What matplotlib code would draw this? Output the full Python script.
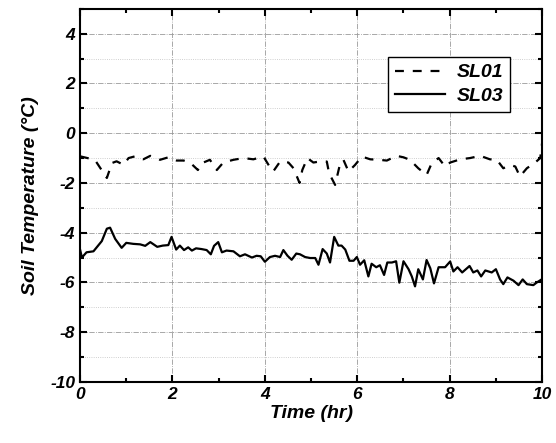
import numpy as np
import matplotlib.pyplot as plt
from matplotlib.ticker import MultipleLocator

# SL01 (dashed)
t_sl01 = [0.0, 0.32, 0.58, 0.69, 0.79, 0.94, 1.05, 1.19, 1.37, 1.52, 1.73, 1.91,
          2.09, 2.24, 2.38, 2.55, 2.63, 2.81, 2.96, 3.10, 3.32, 3.54, 3.75, 3.97,
          4.10, 4.18, 4.33, 4.51, 4.62, 4.75, 4.81, 4.92, 5.05, 5.18, 5.34, 5.39,
          5.52, 5.63, 5.70, 5.81, 5.95, 6.10, 6.28, 6.46, 6.64, 6.85, 7.00, 7.14,
          7.32, 7.50, 7.61, 7.76, 7.90, 8.01, 8.23, 8.44, 8.66, 8.87, 9.02, 9.16,
          9.31, 9.42, 9.52, 9.67, 9.85, 9.96, 10.0]
sl01 = [-0.93, -1.07, -1.80, -1.20, -1.13, -1.27, -1.00, -0.93, -1.05, -0.91, -1.07, -0.97,
        -1.10, -1.10, -1.18, -1.48, -1.21, -1.07, -1.48, -1.18, -1.07, -1.00, -1.05, -0.94,
        -1.34, -1.54, -1.14, -1.18, -1.41, -2.00, -1.48, -1.00, -1.18, -1.14, -1.14, -1.61,
        -2.08, -1.21, -1.07, -1.54, -1.28, -0.94, -1.05, -1.07, -1.10, -0.91, -0.97, -1.07,
        -1.41, -1.68, -1.21, -1.00, -1.34, -1.18, -1.05, -1.00, -0.91, -1.05, -1.07, -1.41,
        -1.28, -1.34, -1.74, -1.41, -1.18, -1.00, -0.40]

# SL03 (solid)
t_sl03 = [0.0, 0.04, 0.14, 0.29, 0.47, 0.58, 0.65, 0.76, 0.90, 1.00, 1.15, 1.30,
          1.41, 1.52, 1.67, 1.79, 1.91, 1.98, 2.08, 2.16, 2.25, 2.34, 2.42, 2.51,
          2.63, 2.74, 2.83, 2.90, 2.99, 3.07, 3.17, 3.32, 3.46, 3.57, 3.72, 3.82,
          3.91, 4.00, 4.11, 4.22, 4.33, 4.40, 4.49, 4.58, 4.68, 4.76, 4.87, 4.98,
          5.09, 5.16, 5.25, 5.34, 5.41, 5.50, 5.59, 5.66, 5.74, 5.83, 5.92, 5.99,
          6.06, 6.15, 6.24, 6.31, 6.41, 6.49, 6.58, 6.65, 6.75, 6.84, 6.91, 7.00,
          7.11, 7.18, 7.25, 7.32, 7.42, 7.50, 7.58, 7.66, 7.76, 7.90, 8.01, 8.08,
          8.17, 8.27, 8.43, 8.51, 8.60, 8.68, 8.77, 8.91, 9.00, 9.09, 9.16, 9.25,
          9.38, 9.49, 9.58, 9.67, 9.81, 9.88, 9.99]
sl03 = [-4.68, -5.00, -4.79, -4.75, -4.34, -3.84, -3.80, -4.25, -4.61, -4.41, -4.45, -4.47,
        -4.53, -4.38, -4.57, -4.52, -4.50, -4.17, -4.68, -4.52, -4.70, -4.59, -4.72, -4.63,
        -4.66, -4.70, -4.87, -4.53, -4.38, -4.79, -4.72, -4.75, -4.95, -4.87, -5.00, -4.93,
        -4.95, -5.17, -4.98, -4.93, -4.98, -4.70, -4.93, -5.09, -4.84, -4.87, -4.98, -5.02,
        -5.02, -5.29, -4.66, -4.84, -5.20, -4.17, -4.52, -4.52, -4.68, -5.13, -5.13, -4.98,
        -5.29, -5.11, -5.76, -5.25, -5.39, -5.31, -5.70, -5.20, -5.20, -5.15, -6.01, -5.15,
        -5.47, -5.76, -6.16, -5.47, -5.88, -5.10, -5.43, -6.04, -5.39, -5.39, -5.16, -5.56,
        -5.39, -5.60, -5.34, -5.60, -5.52, -5.76, -5.52, -5.60, -5.47, -5.88, -6.07, -5.80,
        -5.93, -6.11, -5.88, -6.07, -6.11, -6.01, -5.88]

plt.rcParams['font.family'] = 'Liberation Sans'
plt.rcParams['font.weight'] = 'bold'
plt.rcParams['font.style'] = 'italic'
plt.rcParams['axes.labelweight'] = 'bold'
plt.rcParams['axes.unicode_minus'] = False

fig = plt.figure(figsize=(5.56, 4.43), dpi=100)
ax = fig.add_axes([0.144, 0.138, 0.831, 0.842])

ax.plot(t_sl01, sl01, color='black', lw=1.6, ls=(0, (4, 4)), label='SL01')
ax.plot(t_sl03, sl03, color='black', lw=1.6, ls='-', label='SL03')

ax.set_xlim(0, 10)
ax.set_ylim(-10, 5)
ax.xaxis.set_major_locator(MultipleLocator(2))
ax.xaxis.set_minor_locator(MultipleLocator(1))
ax.yaxis.set_major_locator(MultipleLocator(2))
ax.yaxis.set_minor_locator(MultipleLocator(1))

# grids: major dash-dot, minor (y only) dotted
ax.grid(which='major', color='#9a9a9a', ls='-.', lw=0.6)
ax.yaxis.grid(which='minor', color='#c0c0c0', ls=':', lw=0.6)
ax.set_axisbelow(True)

ax.tick_params(which='both', direction='in', top=True, right=True, width=1.5,
               labelsize=12.5)
ax.tick_params(which='major', length=5)
ax.tick_params(which='minor', length=3)
for s in ax.spines.values():
    s.set_linewidth(1.5)

ax.set_xlabel('Time (hr)', fontsize=14, fontweight='bold', labelpad=2)
ax.set_ylabel('Soil Temperature (°C)', fontsize=14, fontweight='bold', labelpad=8)

leg = ax.legend(loc='upper right', bbox_to_anchor=(0.931, 0.871), borderaxespad=0,
                fancybox=False, edgecolor='black', framealpha=1, fontsize=14,
                handlelength=2.6, handletextpad=0.6, labelspacing=0.3,
                borderpad=0.35)
leg.get_frame().set_linewidth(1.0)

fig.savefig('out.png', dpi=100)
